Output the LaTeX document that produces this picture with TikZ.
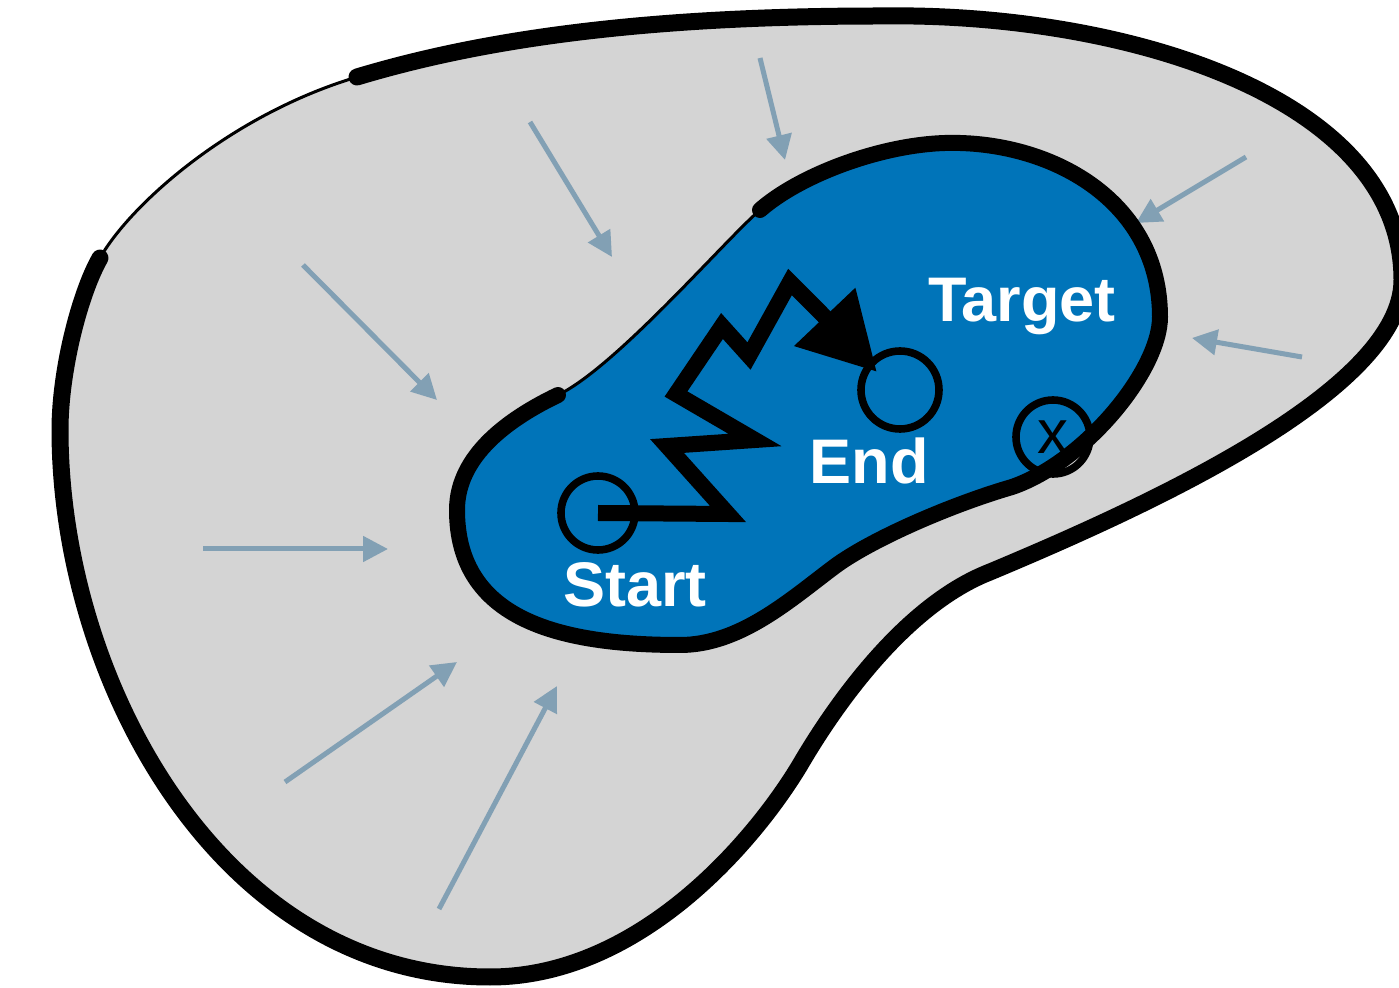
\documentclass[tikz,border=0pt]{standalone}
\usepackage{fontspec}
\setmainfont{Liberation Sans}
\usetikzlibrary{arrows.meta}
\definecolor{bgray}{RGB}{212,212,212}
\definecolor{bblue}{RGB}{0,116,185}
\definecolor{agray}{RGB}{130,160,180}
\begin{document}
\begin{tikzpicture}[x=0.5pt,y=-0.5pt,
  flow/.style={draw=agray, line width=2.5pt, -{Triangle[length=12.5pt,width=12.5pt]}},
  lbl/.style={text=white, font=\fontsize{31.5}{36}\selectfont\bfseries, anchor=base, inner sep=0pt},
  ring/.style={draw=black, line width=3.8pt, circle, inner sep=0pt},
  zig/.style={draw=black, line width=8pt, line join=miter, -{Triangle[length=38pt,width=40pt]}},
  outerline/.style={draw=black, line width=8.5pt, line cap=round},
  innerline/.style={draw=black, line width=8pt, line cap=round},
  thinline/.style={draw=black, line width=1.5pt}
]
\useasboundingbox (0,0) rectangle (1399,988);

% outer region
\fill[bgray] (100,258) .. controls (80,293) and (60,370) .. (60,430)
  .. controls (60,680) and (220,977) .. (490,977)
  .. controls (640,977) and (755,840) .. (800,765)
  .. controls (835,705) and (905,605) .. (990,572)
  .. controls (1150,505) and (1402,390) .. (1402,280)
  .. controls (1402,95) and (1120,12) .. (880,16)
  .. controls (640,16) and (480,40) .. (357,77)
  .. controls (230,115) and (130,205) .. (100,258) -- cycle;
\draw[outerline] (100,258) .. controls (80,293) and (60,370) .. (60,430)
  .. controls (60,680) and (220,977) .. (490,977)
  .. controls (640,977) and (755,840) .. (800,765)
  .. controls (835,705) and (905,605) .. (990,572)
  .. controls (1150,505) and (1402,390) .. (1402,280)
  .. controls (1402,95) and (1120,12) .. (880,16)
  .. controls (640,16) and (480,40) .. (357,77);
\draw[thinline] (357,77) .. controls (230,115) and (130,205) .. (100,258);

% flow arrows
\coordinate (a1s) at (303,265);  \coordinate (a1e) at (437,400);
\coordinate (a2s) at (530,122);  \coordinate (a2e) at (612,257);
\coordinate (a3s) at (760,58);   \coordinate (a3e) at (785,160);
\coordinate (a4s) at (1246,157); \coordinate (a4e) at (1136,223);
\coordinate (a5s) at (1302,357); \coordinate (a5e) at (1192,338);
\coordinate (a6s) at (203,549);  \coordinate (a6e) at (388,549);
\coordinate (a7s) at (285,782);  \coordinate (a7e) at (457,662);
\coordinate (a8s) at (439,909);  \coordinate (a8e) at (557,686);
\foreach \i in {1,...,8} { \draw[flow] (a\i s) -- (a\i e); }

% inner region
\fill[bblue] (558,395) .. controls (510,418) and (457,455) .. (457,510)
  .. controls (457,620) and (560,645) .. (680,645)
  .. controls (740,645) and (790,600) .. (834,567)
  .. controls (870,540) and (950,505) .. (1012,487)
  .. controls (1085,462) and (1160,370) .. (1160,317)
  .. controls (1160,200) and (1050,140) .. (945,143)
  .. controls (880,145) and (800,175) .. (760,210)
  .. controls (725,240) and (616,367) .. (558,395) -- cycle;
\draw[innerline] (558,395) .. controls (510,418) and (457,455) .. (457,510)
  .. controls (457,620) and (560,645) .. (680,645)
  .. controls (740,645) and (790,600) .. (834,567)
  .. controls (870,540) and (950,505) .. (1012,487)
  .. controls (1085,462) and (1160,370) .. (1160,317)
  .. controls (1160,200) and (1050,140) .. (945,143)
  .. controls (880,145) and (800,175) .. (760,210);
\draw[thinline] (760,210) .. controls (725,240) and (616,367) .. (558,395);

% labels
\node[lbl] (tl) at (1022,322) {Target};
\node[lbl] (el) at (869,484) {End};
\node[lbl] (sl) at (635,607) {Start};

% circles
\node[ring, minimum size=37pt] (s) at (598,513) {};
\node[ring, minimum size=39pt] (e) at (900,390) {};
\node[ring, minimum size=37pt, font=\fontsize{31}{36}\selectfont] (x) at (1053,437) {x};

% trajectory
\coordinate (etip) at (877,372);
\draw[zig] (s.center) -- (728,514) -- (667,446) -- (755,440) -- (676,394)
  -- (722,326) -- (749,356) -- (790,282) -- (820,312) -- (etip);
\end{tikzpicture}
\end{document}
